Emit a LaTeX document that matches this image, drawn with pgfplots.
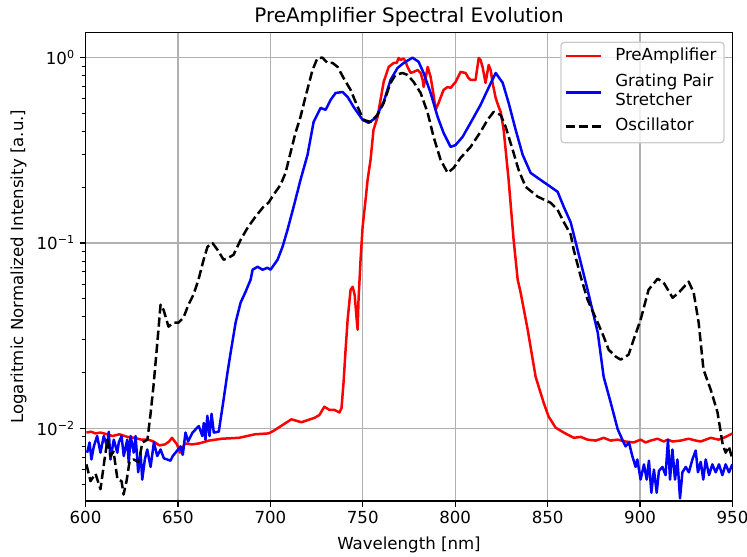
\documentclass[border=0pt]{standalone}
\usepackage{fontspec}
\setmainfont{DejaVu Sans}
\usepackage{pgfplots}
\pgfplotsset{compat=1.18}
\begin{document}
\begin{tikzpicture}
\useasboundingbox (-0.855in,-0.55in) rectangle (6.615in,5.01in);
\begin{axis}[
  at={(0,0)}, anchor=south west,
  scale only axis, width=6.47in, height=4.685in,
  ymode=log, xmin=600, xmax=950, ymin=0.00406, ymax=1.367,
  xtick={600,650,...,950},
  ytick={0.01,0.1,1},
  yticklabels={10\textsuperscript{−2},10\textsuperscript{−1},10\textsuperscript{0}},
  minor ytick={0.005,0.006,0.007,0.008,0.009,0.02,0.03,0.04,0.05,0.06,0.07,0.08,0.09,0.2,0.3,0.4,0.5,0.6,0.7,0.8,0.9},
  /pgf/number format/assume math mode=true,
  /pgf/number format/1000 sep={},
  tick label style={font=\fontsize{12}{14.4}\selectfont},
  label style={font=\fontsize{12}{14.4}\selectfont},
  tick align=outside, tick pos=left,
  major tick length=4.2pt, minor tick length=2.4pt,
  every tick/.style={black, line width=0.96pt},
  minor tick style={line width=0.72pt},
  axis line style={line width=0.96pt},
  xmajorgrids, ymajorgrids, yminorgrids=false,
  grid style={line width=0.96pt, color=black!31},
  title={PreAmplifier Spectral Evolution},
  title style={font=\fontsize{14.4}{17}\selectfont, at={(axis description cs:0.5,1)}, anchor=base, yshift=1.3pt},
  xlabel={Wavelength [nm]},
  xlabel style={at={(axis description cs:0.5,0)}, anchor=base, yshift=-0.48in},
  ylabel={Logaritmic Normalized Intensity [a.u.]},
  ylabel style={at={(axis description cs:-0.1036,0.5)}, anchor=center},
]
\addplot[red, line width=1.8pt, line join=round] coordinates {
(600.5,0.0095)(603,0.0096)(605.4,0.0094)(608.1,0.0095)(611.7,0.0093)(614.6,0.0091)(618.4,0.0093)(622.7,0.0090)(626.5,0.0089)(630.2,0.0087)(634,0.0087)(636.8,0.0085)(640,0.0081)(643,0.0082)(645.2,0.0085)(646.8,0.0089)(649.5,0.0082)(651.1,0.0074)(653.8,0.0083)(657.6,0.0082)(661.4,0.0083)(666.8,0.0086)(673.8,0.0088)(683,0.0089)(691.7,0.0093)(699,0.0094)(701.7,0.0097)(704.4,0.0101)(711.4,0.0112)(716.8,0.0108)(723.8,0.0114)(726.5,0.0118)(729.2,0.0131)(731.9,0.0126)(734.6,0.0126)(737.4,0.0122)(738.5,0.0129)(739.6,0.0177)(740.7,0.0266)(741.8,0.0386)(743.4,0.0560)(744.5,0.0581)(745.6,0.0526)(746.7,0.0386)(747.2,0.0341)(747.7,0.0495)(748.8,0.0813)(749.9,0.122)(751.5,0.171)(752.6,0.219)(754.2,0.281)(755.8,0.408)(758,0.479)(759.6,0.592)(761.3,0.740)(764,0.891)(766.7,0.936)(768.3,0.936)(769.4,0.996)(770.5,0.972)(772.1,0.99)(773.2,0.95)(774.2,0.891)(775.9,0.827)(777.5,0.838)(779.7,0.858)(781.3,0.827)(782.4,0.758)(782.9,0.695)(784,0.777)(785.1,0.891)(786.7,0.787)(788.3,0.63)(789.4,0.523)(791,0.570)(793.7,0.670)(795.9,0.695)(797.5,0.687)(800.2,0.740)(802.9,0.838)(805.6,0.827)(807.2,0.777)(808.3,0.758)(811,0.758)(812.7,0.996)(813.7,0.972)(814.8,0.891)(816.4,0.731)(818.1,0.913)(819.2,0.858)(820.2,0.731)(821.9,0.606)(823.5,0.543)(824.6,0.510)(826.2,0.408)(828.9,0.219)(831.6,0.104)(833.8,0.0634)(835.4,0.0540)(839.2,0.0341)(843.5,0.0190)(847.8,0.0138)(850.5,0.0116)(854.3,0.0101)(858.7,0.0095)(864.1,0.0089)(867.9,0.0090)(871.6,0.0087)(876,0.0086)(880.3,0.0089)(884.1,0.0086)(887.9,0.0087)(892.2,0.0085)(896.5,0.0084)(900.3,0.0087)(903,0.0084)(905.7,0.0086)(909.5,0.0088)(912.8,0.0085)(914.9,0.0087)(917.6,0.0085)(922,0.0086)(926.3,0.0088)(930.1,0.0086)(932.8,0.0085)(938.2,0.0089)(942.5,0.0087)(946.3,0.0090)(950,0.0094)
};
\addplot[blue, line width=1.8pt, line join=round] coordinates {
(600.9,0.0074)(602.2,0.0084)(603.2,0.0068)(604.5,0.0080)(606.3,0.0091)(608.1,0.0074)(609.9,0.0091)(611.7,0.0080)(612.6,0.0096)(613.5,0.0068)(615.3,0.0087)(617.2,0.0074)(618,0.0084)(619.5,0.0091)(620.7,0.0071)(622.6,0.0087)(623.4,0.0065)(624.4,0.0091)(626.1,0.0074)(627.1,0.0091)(628.5,0.0058)(629.8,0.0074)(630.7,0.0053)(632.1,0.0068)(633.4,0.0077)(635.2,0.0062)(637,0.0084)(638.8,0.0071)(640.6,0.0077)(642.4,0.0069)(644.2,0.0068)(646,0.0067)(647.2,0.0071)(648.7,0.0074)(651.4,0.0080)(652.6,0.0072)(654.1,0.0095)(655.5,0.0085)(657.9,0.0095)(661.3,0.0103)(663.2,0.0091)(664,0.0107)(664.9,0.0087)(665.9,0.0117)(667.1,0.0091)(668.2,0.0120)(669.4,0.0095)(672.1,0.0096)(673.1,0.0112)(674.7,0.0143)(676.8,0.0200)(678.5,0.0256)(681.2,0.0372)(683.9,0.0477)(686.6,0.0546)(689.3,0.0634)(690.4,0.0718)(693.1,0.0745)(695.8,0.0718)(698.5,0.0736)(700.1,0.0718)(703.9,0.0813)(706.6,0.0955)(709.3,0.118)(712.6,0.157)(716.3,0.219)(720.1,0.299)(723.4,0.450)(727.2,0.536)(729.9,0.523)(732.6,0.592)(735.3,0.645)(739.1,0.653)(741.8,0.614)(745,0.543)(749.9,0.462)(753.1,0.445)(756.9,0.473)(761.3,0.577)(765,0.758)(768.8,0.880)(772.1,0.936)(776.9,1.0)(780.2,0.95)(782.9,0.827)(786.7,0.645)(790.5,0.479)(793.7,0.393)(797.5,0.330)(800.2,0.338)(804,0.374)(808.3,0.445)(813.7,0.556)(817.5,0.670)(821.9,0.827)(825.7,0.731)(828.9,0.570)(832.7,0.408)(836.5,0.299)(840.8,0.239)(846.2,0.219)(851.6,0.201)(855.4,0.189)(858.7,0.157)(862.5,0.129)(866.2,0.092)(871.6,0.056)(877.1,0.0329)(880.3,0.0190)(884.1,0.0138)(887.9,0.0099)(890.4,0.0087)(891.1,0.0084)(892.2,0.0080)(894,0.0084)(895.8,0.0071)(897.6,0.0062)(898.5,0.0068)(900.3,0.0053)(902.1,0.0064)(903.6,0.0053)(904.8,0.0067)(906.1,0.0045)(907.5,0.0060)(909,0.0045)(910.2,0.0059)(912.1,0.0062)(913.8,0.0056)(915.1,0.0087)(916.2,0.0053)(917.5,0.0077)(918.9,0.0053)(920.2,0.0068)(921.6,0.0042)(922.9,0.0058)(924.7,0.0062)(926.4,0.0058)(928.3,0.0068)(930.1,0.0076)(931.3,0.0058)(932.8,0.0066)(934.2,0.0053)(935.5,0.0068)(937.3,0.0056)(939.1,0.0064)(940.9,0.0058)(942.7,0.0064)(944.5,0.0056)(946.3,0.0064)(948.1,0.0058)(949.9,0.0064)
};
\addplot[black, line width=1.8pt, dash pattern=on 6.66pt off 2.88pt, line join=round] coordinates {
(600.5,0.0064)(602.7,0.0052)(605.4,0.0057)(608.1,0.0047)(610.3,0.0068)(611.9,0.0087)(613.5,0.0071)(615.2,0.0075)(617.3,0.0053)(619.5,0.0052)(620.6,0.0044)(622.2,0.0052)(623.8,0.0066)(626,0.0068)(628.7,0.0066)(630.8,0.0084)(633.5,0.0087)(635.2,0.0120)(636.8,0.0170)(639,0.0301)(640.6,0.0465)(642.2,0.0437)(644.9,0.0354)(647.6,0.0372)(650.3,0.0372)(653,0.0396)(655.7,0.0465)(658.4,0.0526)(661.1,0.0634)(663.9,0.0813)(666,0.0955)(668.7,0.100)(671.4,0.092)(674.7,0.0813)(677.4,0.0833)(680.1,0.0865)(683.9,0.104)(687.7,0.121)(692,0.139)(696.3,0.157)(699,0.165)(701.7,0.182)(705.5,0.206)(708.2,0.239)(710.9,0.307)(713.6,0.393)(716.3,0.479)(719,0.614)(722.8,0.858)(725.5,0.996)(728.2,1.0)(730.9,0.936)(733.7,0.936)(736.4,0.891)(739.6,0.777)(743.4,0.670)(747.2,0.543)(750.4,0.462)(754.2,0.450)(758,0.491)(761.3,0.570)(765,0.731)(767.7,0.807)(771.5,0.827)(774.2,0.807)(777.5,0.740)(781.3,0.645)(785.1,0.504)(788.3,0.374)(792.1,0.281)(795.9,0.239)(799.1,0.254)(802.9,0.288)(808.3,0.330)(813.7,0.398)(817.5,0.462)(820.8,0.510)(824.6,0.491)(827.3,0.423)(831.1,0.318)(834.3,0.248)(838.1,0.201)(844.6,0.178)(851.6,0.165)(855.4,0.151)(858.7,0.130)(862.5,0.111)(864.1,0.092)(867.9,0.0658)(871.6,0.0495)(877.1,0.0372)(880.3,0.0313)(883,0.0266)(886.8,0.0244)(889.5,0.0235)(893.8,0.0250)(896.5,0.0301)(900.3,0.0386)(904.6,0.0560)(909.5,0.0642)(912.8,0.0611)(917.6,0.0507)(920.9,0.0540)(926.3,0.0619)(929,0.0540)(931.7,0.0372)(934.3,0.0208)(938.2,0.0162)(941.9,0.0122)(944.7,0.0082)(946.3,0.0074)(948,0.0080)(950,0.0068)
};
\end{axis}
% legend
\draw[black!20, line width=0.96pt, fill=white, fill opacity=0.8, rounded corners=2.4pt] (4.755in,3.583in) rectangle (6.385in,4.587in);
\draw[red, line width=1.8pt] (4.802in,4.45in) -- (5.158in,4.45in);
\draw[blue, line width=1.8pt] (4.802in,4.083in) -- (5.158in,4.083in);
\draw[black, line width=1.8pt, dash pattern=on 6.66pt off 2.88pt] (4.802in,3.743in) -- (5.158in,3.743in);
\begin{scope}[every node/.style={anchor=west, inner sep=0pt, text height=9.1pt, text depth=2.9pt, font=\fontsize{12}{14.4}\selectfont}]
\node at (5.295in,4.45in) {PreAmplifier};
\node at (5.295in,4.19in) {Grating Pair};
\node at (5.295in,3.995in) {Stretcher};
\node at (5.295in,3.743in) {Oscillator};
\end{scope}
\end{tikzpicture}
\end{document}
